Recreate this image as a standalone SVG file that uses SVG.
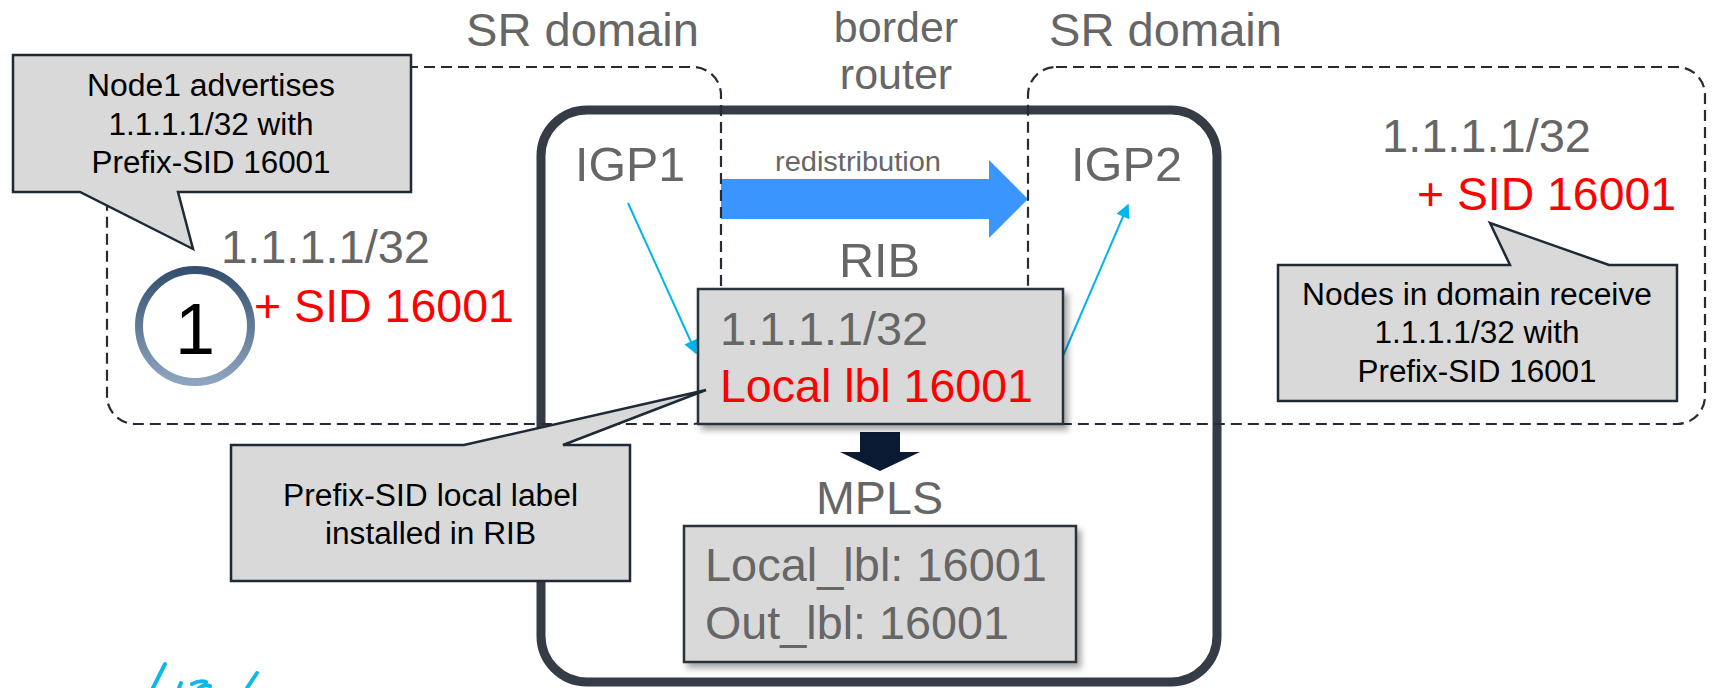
<svg xmlns="http://www.w3.org/2000/svg" width="1712" height="688" viewBox="0 0 1712 688">
<style>
text{font-family:"Liberation Sans",Arial,sans-serif}
.gray{fill:#666666;font-size:46px}
.red{fill:#FF0000;font-size:46px}
.note{fill:#000000;font-size:31px;text-anchor:middle}
.domain{fill:none;stroke:#252C35;stroke-width:2.2;stroke-dasharray:11 6}
.callout{fill:#D9D9D9;stroke:#1F2A36;stroke-width:2.5;stroke-linejoin:miter}
.box{fill:#D9D9D9;stroke:#2A313A;stroke-width:2.5}
.cyan{stroke:#00B4EC;stroke-width:2;fill:none}
.scribble{stroke:#10B8EA;stroke-width:4;fill:none;stroke-linecap:round}
</style>
<defs>
<linearGradient id="ringGrad" x1="0" y1="0" x2="0" y2="1">
<stop offset="0" stop-color="#34506E"/>
<stop offset="1" stop-color="#8EA5C0"/>
</linearGradient>
<filter id="shadow" x="-10%" y="-10%" width="125%" height="130%">
<feDropShadow dx="4" dy="5" stdDeviation="3" flood-color="#000" flood-opacity="0.35"/>
</filter>
<marker id="cyanHead" viewBox="0 0 10 10" refX="9" refY="5" markerWidth="8" markerHeight="7" markerUnits="strokeWidth" orient="auto">
<path d="M0,0 L10,5 L0,10 Z" fill="#00B4EC"/>
</marker>
</defs>

<g id="titles">
<text class="gray" x="466" y="46" textLength="233" lengthAdjust="spacingAndGlyphs">SR domain</text>
<text class="gray" x="1049" y="46" textLength="233" lengthAdjust="spacingAndGlyphs">SR domain</text>
<text class="gray" x="896" y="42" text-anchor="middle" style="font-size:43px">border</text>
<text class="gray" x="896" y="89" text-anchor="middle" style="font-size:43px">router</text>
</g>

<g id="border-router">
<rect x="541" y="110" width="676" height="572" rx="46" ry="46" fill="none" stroke="#353C45" stroke-width="9"/>
<text class="gray" x="575" y="181" style="font-size:48px" textLength="110" lengthAdjust="spacingAndGlyphs">IGP1</text>
<text class="gray" x="1071" y="181" style="font-size:48px" textLength="111" lengthAdjust="spacingAndGlyphs">IGP2</text>
<text class="gray" x="839" y="277" style="font-size:48px" textLength="81" lengthAdjust="spacingAndGlyphs">RIB</text>
</g>

<g id="redistribution">
<path d="M721,179 H989 V160 L1028,199 L989,238 V219 H721 Z" fill="#3A95FF"/>
<text x="775" y="171" fill="#666666" style="font-size:27px" textLength="166" lengthAdjust="spacingAndGlyphs">redistribution</text>
</g>

<g id="sr-domain-left">
<rect class="domain" x="107" y="67" width="614" height="357" rx="28" ry="28"/>
</g>
<g id="sr-domain-right">
<rect class="domain" x="1028" y="67" width="677" height="357" rx="28" ry="28"/>
</g>

<g id="connectors">
<line class="cyan" x1="628" y1="203" x2="696" y2="353" marker-end="url(#cyanHead)"/>
<line class="cyan" x1="1063" y1="356" x2="1128" y2="205" marker-end="url(#cyanHead)"/>
<path d="M860,432 H900 V452 H920 L880,471 L840,452 H860 Z" fill="#0B1A33"/>
</g>

<g id="rib">
<rect class="box" x="698" y="289" width="365" height="135" filter="url(#shadow)"/>
<text class="gray" x="720" y="345" textLength="208" lengthAdjust="spacingAndGlyphs">1.1.1.1/32</text>
<text class="red" x="720" y="402" textLength="313" lengthAdjust="spacingAndGlyphs">Local lbl 16001</text>
</g>

<g id="mpls">
<text class="gray" x="816" y="514" textLength="127" lengthAdjust="spacingAndGlyphs">MPLS</text>
<rect class="box" x="684" y="526" width="392" height="136" filter="url(#shadow)"/>
<text class="gray" x="705" y="581" textLength="342" lengthAdjust="spacingAndGlyphs">Local_lbl: 16001</text>
<text class="gray" x="705" y="639" textLength="304" lengthAdjust="spacingAndGlyphs">Out_lbl: 16001</text>
</g>

<g id="node1">
<circle cx="195" cy="326" r="56" fill="#FFFFFF" stroke="url(#ringGrad)" stroke-width="8"/>
<text x="195" y="354" text-anchor="middle" fill="#000000" style="font-size:72px">1</text>
<text class="gray" x="221" y="263" textLength="209" lengthAdjust="spacingAndGlyphs">1.1.1.1/32</text>
<text class="red" x="254" y="322" textLength="260" lengthAdjust="spacingAndGlyphs">+ SID 16001</text>
</g>

<g id="remote-prefix">
<text class="gray" x="1382" y="152" textLength="209" lengthAdjust="spacingAndGlyphs">1.1.1.1/32</text>
<text class="red" x="1417" y="210" textLength="259" lengthAdjust="spacingAndGlyphs">+ SID 16001</text>
</g>

<g id="callout-node1">
<path class="callout" d="M13,55 H411 V192 H178 L193,249 L80,192 H13 Z"/>
<text class="note" x="211" y="96" textLength="248" lengthAdjust="spacingAndGlyphs">Node1 advertises</text>
<text class="note" x="211" y="135" textLength="205" lengthAdjust="spacingAndGlyphs">1.1.1.1/32 with</text>
<text class="note" x="211" y="173" textLength="239" lengthAdjust="spacingAndGlyphs">Prefix-SID 16001</text>
</g>

<g id="callout-domain">
<path class="callout" d="M1278,265 H1510 L1490,223 L1609,265 H1677 V401 H1278 Z"/>
<text class="note" x="1477" y="305" textLength="350" lengthAdjust="spacingAndGlyphs">Nodes in domain receive</text>
<text class="note" x="1477" y="343" textLength="205" lengthAdjust="spacingAndGlyphs">1.1.1.1/32 with</text>
<text class="note" x="1477" y="382" textLength="239" lengthAdjust="spacingAndGlyphs">Prefix-SID 16001</text>
</g>

<g id="callout-rib">
<path class="callout" d="M231,445 H464 L706,390 L563,445 H630 V581 H231 Z"/>
<text class="note" x="430.5" y="506" textLength="295" lengthAdjust="spacingAndGlyphs">Prefix-SID local label</text>
<text class="note" x="430.5" y="544" textLength="211" lengthAdjust="spacingAndGlyphs">installed in RIB</text>
</g>

<g id="scribble">
<path class="scribble" d="M165,664 L153,688"/>
<path class="scribble" d="M181,683 L179,688"/>
<path class="scribble" d="M192,684 Q200,680 206,682 M199,688 Q204,684 210,686"/>
<path class="scribble" d="M257,673 L247,688"/>
</g>
</svg>
